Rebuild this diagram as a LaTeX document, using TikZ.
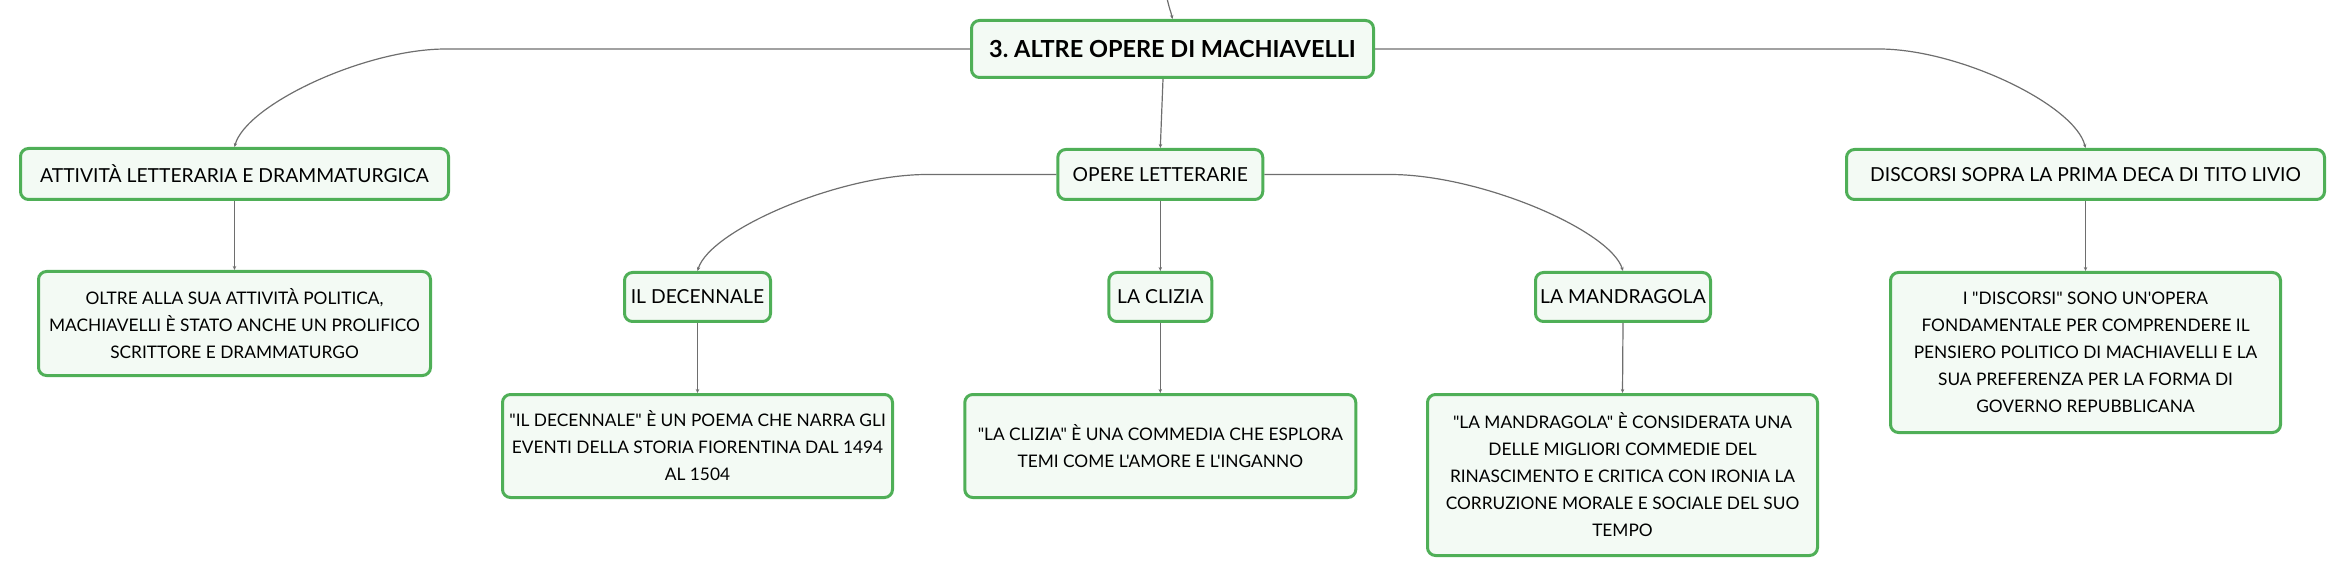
\documentclass[tikz,border=0pt]{standalone}
\usepackage{fontspec}
\setmainfont{Lato}[Ligatures=TeXOff]
\usetikzlibrary{arrows.meta}
\frenchspacing
\definecolor{boxgreen}{HTML}{4FAF57}
\definecolor{boxfill}{HTML}{F3FAF4}
\definecolor{linkgray}{HTML}{6E6E6E}
\tikzset{
  box/.style={draw=boxgreen, fill=boxfill, line width=3pt, rounded corners=8pt,
    inner sep=0pt, align=center, text=black},
  headbox/.style={box, font=\fontsize{19.3}{24}\selectfont},
  bodybox/.style={box, font=\fontsize{17.3}{27}\selectfont},
  rootbox/.style={box, font=\fontsize{23.5}{28}\selectfont\bfseries},
  link/.style={draw=linkgray, line width=1.2pt, -{Stealth[length=4pt,width=3.5pt]}},
}
\begin{document}
\begin{tikzpicture}[x=1pt,y=-1pt]
\useasboundingbox (0,0) rectangle (2346,577);
% nodes
\node[rootbox, minimum width=402pt, minimum height=57pt] (root) at (1172.5,49) {3. ALTRE OPERE DI MACHIAVELLI};
\node[headbox, minimum width=428pt, minimum height=51pt] (att) at (234.5,174) {ATTIVITÀ LETTERARIA E DRAMMATURGICA};
\node[headbox, minimum width=205pt, minimum height=50pt] (lit) at (1160.3,174.5) {OPERE LETTERARIE};
\node[headbox, minimum width=478pt, minimum height=50pt] (disc) at (2085.5,174.5) {DISCORSI SOPRA LA PRIMA DECA DI TITO LIVIO};
\node[bodybox, minimum width=392pt, minimum height=104pt] (attc) at (234.5,323.5) {OLTRE ALLA SUA ATTIVITÀ POLITICA,\\MACHIAVELLI È STATO ANCHE UN PROLIFICO\\SCRITTORE E DRAMMATURGO};
\node[headbox, minimum width=146pt, minimum height=49pt] (dec) at (697.5,297) {IL DECENNALE};
\node[bodybox, minimum width=390pt, minimum height=103pt] (decc) at (697.5,446) {"IL DECENNALE" È UN POEMA CHE NARRA GLI\\EVENTI DELLA STORIA FIORENTINA DAL 1494\\AL 1504};
\node[headbox, minimum width=103pt, minimum height=49pt] (cli) at (1160.3,297) {LA CLIZIA};
\node[bodybox, minimum width=391pt, minimum height=103pt] (clic) at (1160.3,446) {"LA CLIZIA" È UNA COMMEDIA CHE ESPLORA\\TEMI COME L'AMORE E L'INGANNO};
\node[headbox, minimum width=175pt, minimum height=49pt] (man) at (1623,297) {LA MANDRAGOLA};
\node[bodybox, minimum width=390pt, minimum height=161pt] (manc) at (1622.5,475) {"LA MANDRAGOLA" È CONSIDERATA UNA\\DELLE MIGLIORI COMMEDIE DEL\\RINASCIMENTO E CRITICA CON IRONIA LA\\CORRUZIONE MORALE E SOCIALE DEL SUO\\TEMPO};
\node[bodybox, minimum width=390pt, minimum height=160pt] (discc) at (2085.5,352.5) {I "DISCORSI" SONO UN'OPERA\\FONDAMENTALE PER COMPRENDERE IL\\PENSIERO POLITICO DI MACHIAVELLI E LA\\SUA PREFERENZA PER LA FORMA DI\\GOVERNO REPUBBLICANA};
% connector helpers
\coordinate (incoming) at (1167,-2);
\coordinate (bendL) at (446,49);
\coordinate (bendR) at (1879,49);
\coordinate (bendD) at (927,174.5);
\coordinate (bendM) at (1390,174.5);
% connectors
\draw[link] (incoming) .. controls (1169,8) and (1171,12) .. (root.north);
\draw[link] (root.west) -- (bendL) .. controls (364,49) and (246,105) .. (att.north);
\draw[link] (root.east) -- (bendR) .. controls (1959,49) and (2075,105) .. (disc.north);
\draw[link] ([xshift=-9.5pt]root.south) -- (lit.north);
\draw[link] (att.south) -- (attc.north);
\draw[link] (disc.south) -- (discc.north);
\draw[link] (lit.west) -- (bendD) .. controls (839,174.5) and (710,230) .. (dec.north);
\draw[link] (lit.south) -- (cli.north);
\draw[link] (lit.east) -- (bendM) .. controls (1480,174.5) and (1610,230) .. (man.north);
\draw[link] (dec.south) -- (decc.north);
\draw[link] (cli.south) -- (clic.north);
\draw[link] (man.south) -- (manc.north);
\end{tikzpicture}
\end{document}
